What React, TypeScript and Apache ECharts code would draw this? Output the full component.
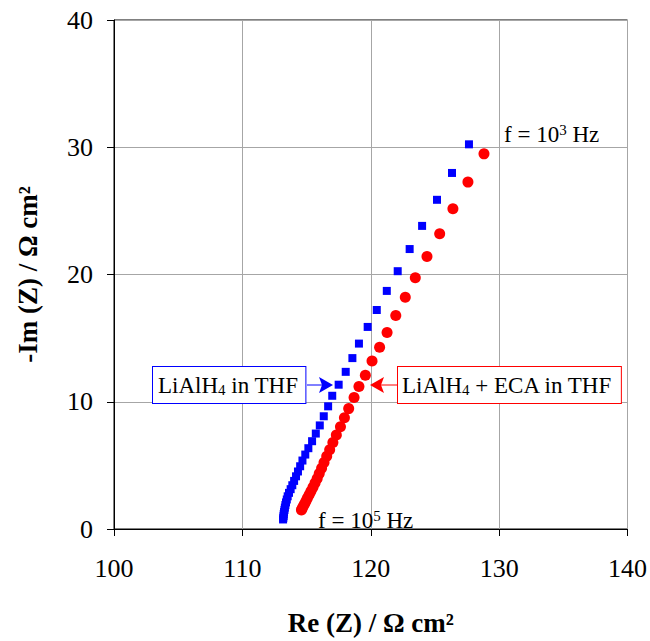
import React, { useEffect, useRef } from "react";
import * as echarts from "echarts";

// LiAlH4 in THF (blue squares): Re(Z), -Im(Z) in Ω cm²
const thfRe = [
  127.65, 126.33, 125.16, 124.0, 123.03, 122.1, 121.25, 120.47, 119.76, 119.08,
  118.57, 118.05, 117.5, 117.0, 116.68, 116.34, 116.03, 115.72,
  115.43, 115.14, 114.9, 114.68, 114.5, 114.33, 114.18, 114.03, 113.89, 113.76,
  113.63, 113.53, 113.46, 113.4, 113.35, 113.31, 113.28, 113.245, 113.22, 113.21,
  113.19, 113.17,
];
const thfIm = [
  30.23, 27.98, 25.87, 23.82, 22.0, 20.26, 18.71, 17.21, 15.88, 14.57,
  13.43, 12.35, 11.34, 10.47, 9.64, 8.86, 8.14, 7.5,
  6.9, 6.35, 5.85, 5.38, 4.93, 4.52, 4.14, 3.78, 3.44, 3.13,
  2.84, 2.57, 2.32, 2.09, 1.88, 1.68, 1.5, 1.33, 1.17, 1.02,
  0.88, 0.75,
];

// LiAlH4 + ECA in THF (red circles)
const ecaRe = [
  128.82, 127.57, 126.4, 125.37, 124.38, 123.47, 122.69, 121.95, 121.27, 120.69,
  120.1, 119.58, 119.08, 118.7, 118.28, 117.95, 117.64, 117.32,
  117.05, 116.8, 116.57, 116.36, 116.17, 115.99, 115.83, 115.66, 115.5, 115.34,
  115.2, 115.07, 114.95, 114.84, 114.73, 114.65, 114.6,
];
const ecaIm = [
  29.48, 27.26, 25.17, 23.2, 21.42, 19.74, 18.22, 16.77, 15.45, 14.29,
  13.2, 12.09, 11.19, 10.33, 9.46, 8.74, 8.04, 7.39,
  6.79, 6.23, 5.71, 5.23, 4.78, 4.36, 3.97, 3.61, 3.28, 2.97,
  2.69, 2.43, 2.19, 1.97, 1.77, 1.6, 1.5,
];

const xTicks = [100, 110, 120, 130, 140];
const yTicks = [0, 10, 20, 30, 40];

const xTitle = "Re (Z) / Ω cm²";
const yTitle = "-Im (Z) / Ω cm²";

const FONT = "'Liberation Serif', 'Times New Roman', serif";

export default function App() {
  const ref = useRef<HTMLDivElement>(null);

  useEffect(() => {
    if (!ref.current) return;
    const chart = echarts.init(ref.current, undefined, { renderer: "svg" });

    const thfData = thfRe.map((x, i) => [x, thfIm[i]]);
    const ecaData = ecaRe.map((x, i) => [x, ecaIm[i]]);

    const richBase = {
      a: { fontSize: 23, lineHeight: 24, fontFamily: FONT, color: "#000" },
      s: { fontSize: 15, lineHeight: 14, fontFamily: FONT, color: "#000", verticalAlign: "bottom" },
      p: { fontSize: 15, lineHeight: 12, fontFamily: FONT, color: "#000", verticalAlign: "top" },
    };

    chart.setOption({
      animation: false,
      backgroundColor: "#fff",
      grid: {
        left: 114,
        top: 20,
        width: 514,
        height: 516,
        show: true,
        borderColor: "#000",
        borderWidth: 1,
        backgroundColor: "transparent",
      },
      xAxis: {
        type: "value",
        min: xTicks[0],
        max: xTicks[xTicks.length - 1],
        interval: 10,
        name: xTitle,
        nameLocation: "middle",
        nameGap: 80,
        nameTextStyle: { fontFamily: FONT, fontSize: 27, fontWeight: "bold", color: "#000" },
        axisLine: { show: true, lineStyle: { color: "#000", width: 1 } },
        axisTick: { show: true, inside: false, length: 7, lineStyle: { color: "#000" } },
        axisLabel: { fontFamily: FONT, fontSize: 26, color: "#000", margin: 26 },
        splitLine: { show: true, lineStyle: { color: "#a6a6a6", width: 1 } },
      },
      yAxis: {
        type: "value",
        min: yTicks[0],
        max: yTicks[yTicks.length - 1],
        interval: 10,
        name: yTitle,
        nameLocation: "middle",
        nameGap: 73,
        nameTextStyle: { fontFamily: FONT, fontSize: 27, fontWeight: "bold", color: "#000" },
        axisLine: { show: true, lineStyle: { color: "#000", width: 1 } },
        axisTick: { show: true, inside: false, length: 7, lineStyle: { color: "#000" } },
        axisLabel: { fontFamily: FONT, fontSize: 26, color: "#000", margin: 21 },
        splitLine: { show: true, lineStyle: { color: "#a6a6a6", width: 1 } },
      },
      series: [
        {
          name: "LiAlH4 in THF",
          type: "scatter",
          data: thfData,
          symbol: "rect",
          symbolSize: 8,
          itemStyle: { color: "#0000ff", opacity: 1 },
          z: 3,
        },
        {
          name: "LiAlH4 + ECA in THF",
          type: "scatter",
          data: ecaData,
          symbol: "circle",
          symbolSize: 11,
          itemStyle: { color: "#ff0000", opacity: 1 },
          z: 2,
        },
      ],
      graphic: [
        {
          type: "text",
          x: 153,
          y: 367,
          z: 10,
          style: {
            text: "{a|LiAlH}{s|4}{a| in THF}",
            rich: richBase,
            align: "left",
            verticalAlign: "top",
            backgroundColor: "#fff",
            borderColor: "#0000ff",
            borderWidth: 1,
            padding: [6, 7, 6, 5],
          },
        },
        {
          type: "line",
          z: 10,
          shape: { x1: 307, y1: 385, x2: 322, y2: 385 },
          style: { stroke: "#0000ff", lineWidth: 1 },
        },
        {
          type: "polygon",
          z: 10,
          shape: { points: [[333, 385], [319, 377], [322, 385], [319, 393]] },
          style: { fill: "#0000ff" },
        },
        {
          type: "text",
          x: 398,
          y: 367,
          z: 10,
          style: {
            text: "{a|LiAlH}{s|4}{a| + ECA in THF}",
            rich: richBase,
            align: "left",
            verticalAlign: "top",
            backgroundColor: "#fff",
            borderColor: "#ff0000",
            borderWidth: 1,
            padding: [6, 8, 6, 4],
          },
        },
        {
          type: "line",
          z: 10,
          shape: { x1: 398, y1: 385, x2: 381, y2: 385 },
          style: { stroke: "#ff0000", lineWidth: 1 },
        },
        {
          type: "polygon",
          z: 10,
          shape: { points: [[370, 385], [384, 377], [381, 385], [384, 393]] },
          style: { fill: "#ff0000" },
        },
        {
          type: "text",
          x: 504,
          y: 134,
          z: 10,
          style: {
            text: "{a|f = 10}{p|3}{a| Hz}",
            rich: richBase,
            align: "left",
            verticalAlign: "middle",
          },
        },
        {
          type: "text",
          x: 318,
          y: 520,
          z: 10,
          style: {
            text: "{a|f = 10}{p|5}{a| Hz}",
            rich: richBase,
            align: "left",
            verticalAlign: "middle",
          },
        },
      ],
    });

    return () => {
      chart.dispose();
    };
  }, []);

  return (
    <div
      ref={ref}
      style={{ position: "fixed", left: 0, top: 0, width: 650, height: 641, background: "#fff" }}
    />
  );
}
